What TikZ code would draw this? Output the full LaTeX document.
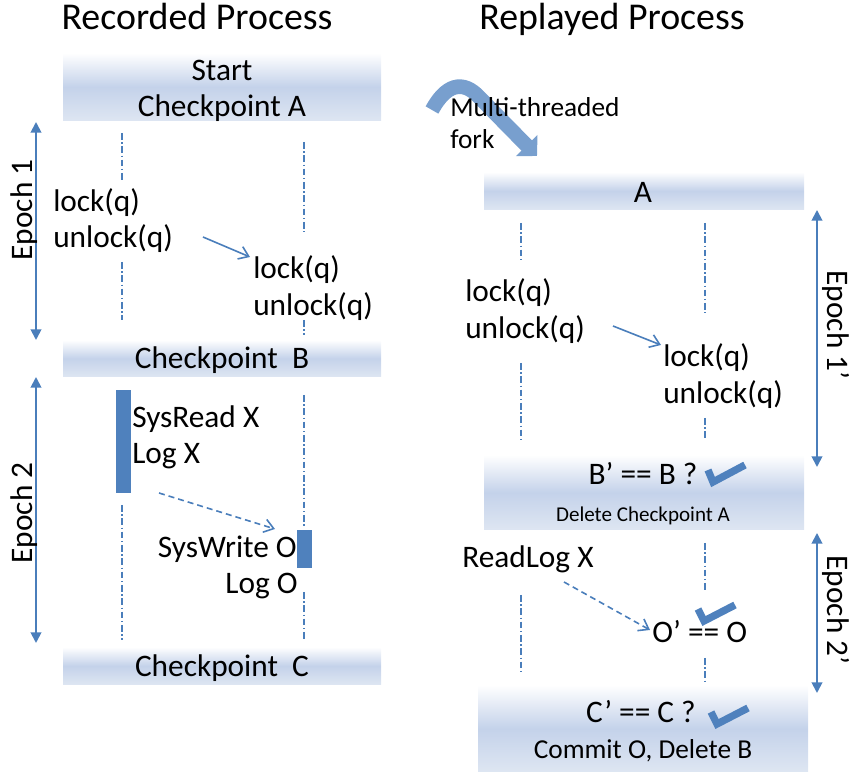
\documentclass[tikz,border=0pt]{standalone}
\usepackage{fontspec}
\setmainfont{Carlito}
\usetikzlibrary{arrows.meta}
\definecolor{lineblue}{RGB}{74,126,187}
\definecolor{barblue}{RGB}{79,129,189}
\definecolor{forkblue}{RGB}{120,159,206}
\definecolor{boxmid}{RGB}{196,210,234}
\definecolor{boxbot}{RGB}{222,230,242}
\begin{document}
\begin{tikzpicture}[x=0.75pt,y=-0.75pt,
  cpbox/.style={top color=white, bottom color=boxbot, middle color=boxmid, draw=none},
  body/.style={font=\fontsize{23.5}{28}\selectfont, inner sep=0pt},
  title/.style={font=\fontsize{28.4}{34}\selectfont, inner sep=0pt},
  small/.style={font=\fontsize{15.8}{19}\selectfont, inner sep=0pt},
  mid/.style={font=\fontsize{20.5}{25}\selectfont, inner sep=0pt},
  life/.style={lineblue, line width=1pt, dash pattern=on 5pt off 2pt on 1pt off 2pt},
  epocharrow/.style={lineblue, line width=1.4pt, {Triangle[length=8pt,width=8pt]}-{Triangle[length=8pt,width=8pt]}},
  msg/.style={lineblue, line width=1.2pt, -{Straight Barb[length=7pt,width=10pt]}},
  dmsg/.style={msg, dash pattern=on 4.5pt off 3pt},
  checkmark/.style={barblue, line width=5.5pt, line join=miter},
]
\useasboundingbox (0,0) rectangle (851,773);

% titles
\node[title, anchor=base] (tRec) at (197,30) {Recorded Process};
\node[title, anchor=base] (tRep) at (612,30) {Replayed Process};

% checkpoint boxes
\path[cpbox] (63,53) rectangle (381,121);
\path[cpbox] (63,340) rectangle (381,377);
\path[cpbox] (63,647) rectangle (381,685);
\path[cpbox] (484,172) rectangle (804,210);
\path[cpbox] (484,455) rectangle (804,530);
\path[cpbox] (478,685) rectangle (808,772);

% box texts
\node[body, anchor=base] (start) at (222,81) {Start};
\node[body, anchor=base] (cpA) at (222,117) {Checkpoint A};
\node[body, anchor=base] (cpB) at (222,369) {Checkpoint\ \ B};
\node[body, anchor=base] (cpC) at (222,677) {Checkpoint\ \ C};
\node[body, anchor=base] (rA) at (643,203) {A};
\node[body, anchor=base] (rB) at (643,485) {B’ == B ?};
\node[small, anchor=base] (delA) at (643,522) {Delete Checkpoint A};
\node[body, anchor=base] (rC) at (641,723) {C’ == C ?};
\node[mid, anchor=base] (commit) at (643,759) {Commit O, Delete B};

% lifelines left
\draw[life] (122,133) -- (122,180);
\draw[life] (122,262) -- (122,320);
\draw[life] (304,142) -- (304,232);
\draw[life] (304,320) -- (304,335);
\draw[life] (122,505) -- (122,640);
\draw[life] (304,395) -- (304,528);
\draw[life] (304,592) -- (304,640);
% lifelines right
\draw[life] (521,223) -- (521,262);
\draw[life] (521,363) -- (521,440);
\draw[life] (705,223) -- (705,313);
\draw[life] (705,418) -- (705,440);
\draw[life] (521,595) -- (521,672);
\draw[life] (705,543) -- (705,592);
\draw[life] (705,658) -- (705,682);

% epoch arrows
\coordinate (e1t) at (36,122); \coordinate (e1b) at (36,340);
\coordinate (e2t) at (36,377); \coordinate (e2b) at (36,643);
\coordinate (r1t) at (817,210); \coordinate (r1b) at (817,467);
\coordinate (r2t) at (817,533); \coordinate (r2b) at (817,693);
\draw[epocharrow] (e1t) -- (e1b);
\draw[epocharrow] (e2t) -- (e2b);
\draw[epocharrow] (r1t) -- (r1b);
\draw[epocharrow] (r2t) -- (r2b);
\node[body, rotate=90] (ep1) at (24,210) {Epoch 1};
\node[body, rotate=90] (ep2) at (24,513) {Epoch 2};
\node[body, rotate=-90] (ep1r) at (836,325) {Epoch 1’};
\node[body, rotate=-90] (ep2r) at (836,610) {Epoch 2’};

% left column texts
\node[body, anchor=base west] (l1) at (53,212) {lock(q)};
\node[body, anchor=base west] (u1) at (53,248) {unlock(q)};
\node[body, anchor=base west] (l2) at (253,279) {lock(q)};
\node[body, anchor=base west] (u2) at (253,316) {unlock(q)};
\node[body, anchor=base west] (sr) at (132,428) {SysRead X};
\node[body, anchor=base west] (lx) at (132,464) {Log X};
\node[body, anchor=base east] (sw) at (297,558) {SysWrite O};
\node[body, anchor=base east] (lo) at (298,594) {Log O};

% bars
\fill[barblue] (116,390) rectangle (131,493);
\fill[barblue] (297,530) rectangle (312,568);

% right column texts
\node[body, anchor=base west] (l3) at (465,302) {lock(q)};
\node[body, anchor=base west] (u3) at (465,339) {unlock(q)};
\node[body, anchor=base west] (l4) at (663,367) {lock(q)};
\node[body, anchor=base west] (u4) at (663,404) {unlock(q)};
\node[body, anchor=base west] (rl) at (462,568) {ReadLog X};
\node[body, anchor=base west] (oo) at (652,643) {O’ == O};

% messages
\coordinate (m1s) at (203,237); \coordinate (m1e) at (250,257);
\coordinate (m2s) at (613,326); \coordinate (m2e) at (661,345);
\coordinate (m3s) at (159,493); \coordinate (m3e) at (275,529);
\coordinate (m4s) at (564,582); \coordinate (m4e) at (650,630);
\draw[msg] (m1s) -- (m1e);
\draw[msg] (m2s) -- (m2e);
\draw[dmsg] (m3s) -- (m3e);
\draw[dmsg] (m4s) -- (m4e);

% check marks
\draw[checkmark] (708,470) -- (713,482) -- (745,465);
\draw[checkmark] (698,609) -- (704,621) -- (735,605);
\draw[checkmark] (711,712) -- (717,724) -- (748,708);

% fork arrow
\coordinate (fs) at (432,110); \coordinate (fe) at (537,156);
\draw[forkblue, line width=11pt, -{Triangle[length=11pt,width=22pt]}]
  (fs) .. controls (445,86) and (462,78) .. (480,98) -- (fe);
\node[mid, anchor=base west] (mt) at (450,117) {Multi-threaded};
\node[mid, anchor=base west] (fk) at (450,149) {fork};
\end{tikzpicture}
\end{document}
